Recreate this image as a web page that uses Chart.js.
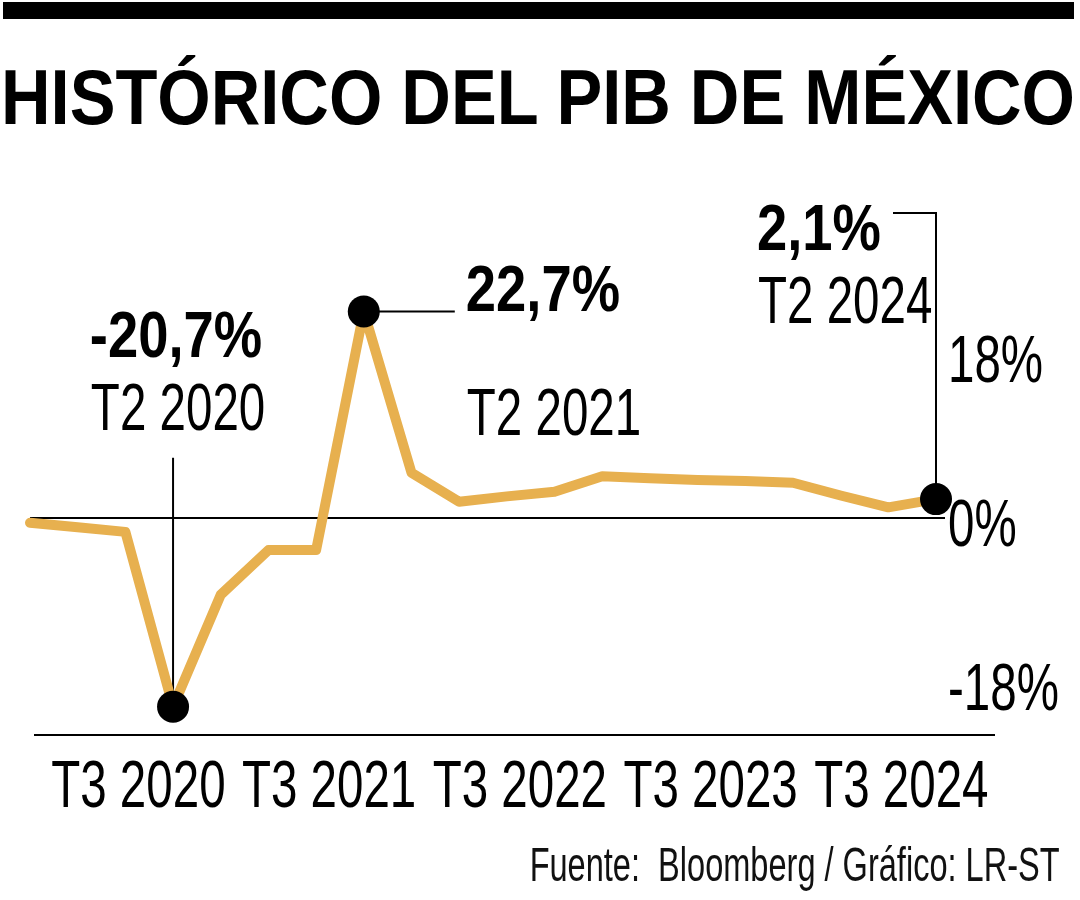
<!DOCTYPE html>
<html lang="es">
<head>
<meta charset="utf-8">
<title>Histórico del PIB de México</title>
<script src="https://cdn.jsdelivr.net/npm/chart.js@4.4.1/dist/chart.umd.min.js"></script>
<style>
  html, body { margin: 0; padding: 0; background: #fff; }
  #wrap { position: relative; width: 1080px; height: 900px; overflow: hidden; }
  #topbar { position: absolute; left: 3px; top: 2px; width: 1071px; height: 17px; background: #000; }
  #title { position: absolute; left: 1px; top: 58px; margin: 0; color: #000;
    font: bold 78px/1 "Liberation Sans", Arial, sans-serif;
    white-space: nowrap; transform-origin: left top; }
  #source { position: absolute; right: 20px; top: 841px; color: #111;
    font: 48px/1 "Liberation Sans", Arial, sans-serif;
    white-space: pre; transform-origin: right top; }
  #chart { position: absolute; left: 0; top: 0; }
</style>
</head>
<body>
<div id="wrap">
  <canvas id="chart" width="1080" height="900"></canvas>
  <div id="topbar"></div>
  <h1 id="title">HISTÓRICO DEL PIB DE MÉXICO</h1>
  <div id="source">Fuente:  Bloomberg / Gráfico: LR-ST</div>
</div>
<script>
// quarterly GDP growth, % year on year
const quarters = [
  "T3 2019", "T4 2019", "T1 2020", "T2 2020", "T3 2020", "T4 2020", "T1 2021",
  "T2 2021", "T3 2021", "T4 2021", "T1 2022", "T2 2022", "T3 2022", "T4 2022",
  "T1 2023", "T2 2023", "T3 2023", "T4 2023", "T1 2024", "T2 2024"
];
const gdpGrowth = [
  -0.5, -1.0, -1.5, -20.7, -8.4, -3.5, -3.5,
  22.7, 5.0, 1.8, 2.4, 2.9, 4.6, 4.4,
  4.2, 4.1, 3.9, 2.5, 1.2, 2.1
];
const yTicks = [-18, 0, 18];
const xTickLabels = ["T3 2020", "T3 2021", "T3 2022", "T3 2023", "T3 2024"];

// highlighted quarters
const highlightIdx = [3, 7, 19];
const highlightValue = ["-20,7%", "22,7%", "2,1%"];
const highlightPeriod = ["T2 2020", "T2 2021", "T2 2024"];

// leader lines and label offsets (px, relative to the point)
const calloutLayout = [
  { path: [[0, 0], [0, -249]], bold: [3, -350, "center"], light: [5, -277, "center"] },
  { path: [[0, 0], [91, 0]], bold: [102, 0, "left"], light: [103, 124, "left"] },
  { path: [[0, 0], [0, -286], [-43, -286]], bold: [-179, -249, "left"], light: [-178, -176, "left"] }
];

// no condensed face installed, so text is squeezed horizontally
const FAMILY = '"Liberation Sans", Arial, sans-serif';
const LIGHT_FONT = "66px " + FAMILY;
const BOLD_FONT = "bold 64px " + FAMILY;
const LIGHT_SQUEEZE = 0.72;
const BOLD_SQUEEZE = 0.85;

function fitWidth(el, target) {
  const w = el.getBoundingClientRect().width;
  el.style.transform = "scaleX(" + (target / w) + ")";
}
fitWidth(document.getElementById("title"), 1074);
fitWidth(document.getElementById("source"), 530);

function drawSqueezed(ctx, text, x, y, align, font, sx) {
  ctx.save();
  ctx.translate(x, y);
  ctx.scale(sx, 1);
  ctx.font = font;
  ctx.textAlign = align;
  ctx.textBaseline = "alphabetic";
  ctx.fillStyle = "#000";
  ctx.fillText(text, 0, 0);
  ctx.restore();
}

const calloutPlugin = {
  id: "callouts",
  beforeDatasetsDraw(chart) {
    const { ctx, chartArea, scales: { x, y } } = chart;
    ctx.save();
    ctx.strokeStyle = "#000";
    ctx.lineWidth = 2;
    // bottom rule
    ctx.beginPath();
    ctx.moveTo(chartArea.left + 4, chartArea.bottom);
    ctx.lineTo(chartArea.right + 59, chartArea.bottom);
    ctx.stroke();
    // leaders
    highlightIdx.forEach((idx, k) => {
      const px = x.getPixelForValue(idx);
      const py = y.getPixelForValue(gdpGrowth[idx]);
      ctx.beginPath();
      calloutLayout[k].path.forEach(([dx, dy], j) => {
        if (j === 0) ctx.moveTo(px + dx, py + dy);
        else ctx.lineTo(px + dx, py + dy);
      });
      ctx.stroke();
    });
    ctx.restore();
  },
  afterDatasetsDraw(chart) {
    const { ctx, scales: { x, y } } = chart;
    highlightIdx.forEach((idx, k) => {
      const px = x.getPixelForValue(idx);
      const py = y.getPixelForValue(gdpGrowth[idx]);
      const lay = calloutLayout[k];
      drawSqueezed(ctx, highlightValue[k], px + lay.bold[0], py + lay.bold[1], lay.bold[2], BOLD_FONT, BOLD_SQUEEZE);
      drawSqueezed(ctx, highlightPeriod[k], px + lay.light[0], py + lay.light[1], lay.light[2], LIGHT_FONT, LIGHT_SQUEEZE);
    });
  },
  // tick labels: texts and positions come from the scales, drawn condensed
  afterDraw(chart) {
    const { ctx, scales: { x, y } } = chart;
    x.ticks.forEach((t, i) => {
      if (!t.label) return;
      drawSqueezed(ctx, t.label, x.getPixelForTick(i) + 13, x.top + 72, "center", LIGHT_FONT, LIGHT_SQUEEZE);
    });
    y.ticks.forEach((t, i) => {
      drawSqueezed(ctx, t.label, y.left + 12, y.getPixelForTick(i) + 28, "left", LIGHT_FONT, LIGHT_SQUEEZE);
    });
  }
};

new Chart(document.getElementById("chart"), {
  type: "line",
  data: {
    labels: quarters,
    datasets: [{
      data: gdpGrowth,
      borderColor: "#e7b04f",
      borderWidth: 10,
      borderCapStyle: "round",
      borderJoinStyle: "round",
      tension: 0,
      clip: false,
      pointRadius: ctx => highlightIdx.includes(ctx.dataIndex) ? 16 : 0,
      pointHoverRadius: ctx => highlightIdx.includes(ctx.dataIndex) ? 16 : 0,
      pointBackgroundColor: "#000",
      pointBorderWidth: 0
    }]
  },
  options: {
    responsive: false,
    animation: false,
    events: [],
    layout: { padding: { left: 30, top: 245, right: 0, bottom: 0 } },
    plugins: { legend: { display: false }, tooltip: { enabled: false } },
    scales: {
      x: {
        type: "category",
        offset: false,
        grid: { display: false, drawTicks: false },
        border: { display: false },
        afterFit(scale) { scale.height = 165; },
        ticks: {
          autoSkip: false,
          maxRotation: 0,
          color: "rgba(0,0,0,0)",
          font: { family: FAMILY, size: 30 },
          callback: (v, i) => (i % 4 === 2 ? xTickLabels[(i - 2) / 4] : "")
        }
      },
      y: {
        position: "right",
        min: -23.8,
        max: 30,
        afterBuildTicks(scale) { scale.ticks = yTicks.map(v => ({ value: v })); },
        afterFit(scale) { scale.width = 144; },
        border: { display: false },
        grid: {
          drawTicks: true,
          tickLength: 9,
          lineWidth: 2,
          color: c => (c.tick && c.tick.value === 0 ? "#000" : "rgba(0,0,0,0)")
        },
        ticks: {
          color: "rgba(0,0,0,0)",
          font: { family: FAMILY, size: 30 },
          callback: v => v + "%"
        }
      }
    }
  },
  plugins: [calloutPlugin]
});
</script>
</body>
</html>
